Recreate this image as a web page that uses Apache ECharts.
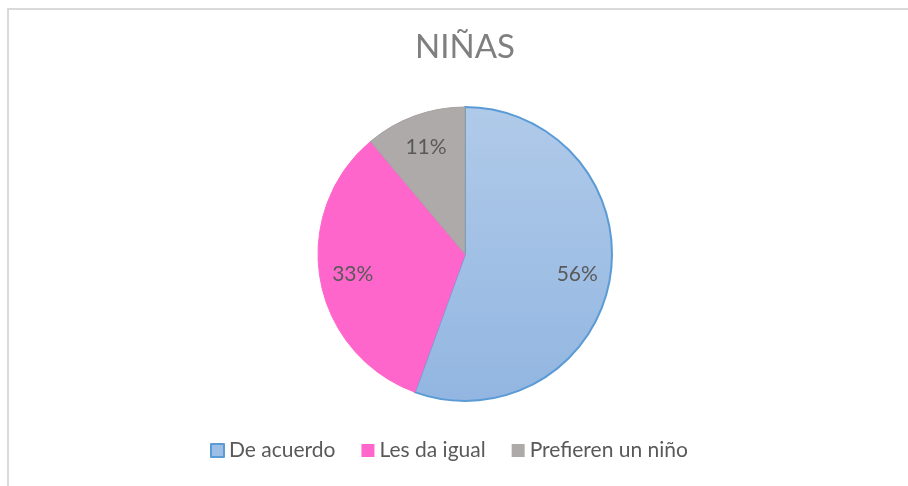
<!DOCTYPE html>
<html lang="es">
<head>
  <meta charset="UTF-8">
  <title>NIÑAS</title>
  <style>
    html, body { margin: 0; padding: 0; overflow: hidden; background: #fff; }
    #marco {
      position: absolute; left: 7px; top: 8px;
      width: 1000px; height: 600px;
      border-left: 2px solid #d9d9d9; border-top: 2px solid #d9d9d9;
    }
    #myEcharts { position: absolute; left: 0; top: 0; width: 930px; height: 486px; }
  </style>
  <script src="https://cdn.jsdelivr.net/npm/echarts@6/dist/echarts.min.js"></script>
</head>
<body>
  <div id="marco"></div>
  <div id="myEcharts"></div>
  <script>
    // datos del grafico
    var categorias = ['De acuerdo', 'Les da igual', 'Prefieren un niño'];
    var valores = [5, 3, 1];
    var colores = [
      new echarts.graphic.LinearGradient(0, 0, 0, 1, [
        { offset: 0, color: '#b0cae9' },
        { offset: 1, color: '#92b6e1' }
      ]),
      '#ff66cc',
      '#aeaaaa'
    ];
    var bordes = ['#5b9bd5', '#ff66cc', '#a5a1a1'];
    var iconos = ['#9dbfe6', '#ff66cc', '#aeaaaa'];

    var fuente = 'Lato, "Open Sans", sans-serif';

    var datos = categorias.map(function (c, i) {
      return {
        name: c,
        value: valores[i],
        itemStyle: { color: colores[i], borderColor: bordes[i], borderWidth: i === 0 ? 2 : 1 }
      };
    });
    // serie solo para las etiquetas (radio medio ~111px)
    var datosEtiq = categorias.map(function (c, i) {
      return { name: c, value: valores[i] };
    });

    var myChart = echarts.init(document.getElementById('myEcharts'));
    var option = {
      animation: false,
      title: {
        text: 'NIÑAS',
        left: 'center',
        top: 26,
        textStyle: { fontFamily: fuente, fontSize: 33, fontWeight: 'normal', color: '#7f7f7f' }
      },
      legend: {
        bottom: 20,
        left: 205,
        itemWidth: 13,
        itemHeight: 13,
        itemGap: 26,
        icon: 'rect',
        selectedMode: false,
        data: categorias.map(function (c, i) {
          return { name: c, itemStyle: { color: iconos[i], borderColor: bordes[i], borderWidth: i === 0 ? 2 : 0 } };
        }),
        textStyle: { fontFamily: fuente, fontSize: 21, color: '#595959' }
      },
      series: [{
        name: 'NIÑAS',
        type: 'pie',
        center: [465, 254],
        radius: [0, 147],
        startAngle: 90,
        clockwise: true,
        label: { show: false },
        labelLine: { show: false },
        emphasis: { disabled: true },
        data: datos
      }, {
        name: 'etiquetas',
        type: 'pie',
        center: [465, 254],
        radius: [75, 147],
        startAngle: 90,
        clockwise: true,
        silent: true,
        itemStyle: { color: 'transparent', borderWidth: 0 },
        label: {
          show: true,
          position: 'inside',
          formatter: function (p) { return Math.round(p.percent) + '%'; },
          fontFamily: fuente,
          fontSize: 21,
          color: '#595959'
        },
        labelLine: { show: false },
        emphasis: { disabled: true },
        data: datosEtiq
      }]
    };
    myChart.setOption(option);
  </script>
</body>
</html>
